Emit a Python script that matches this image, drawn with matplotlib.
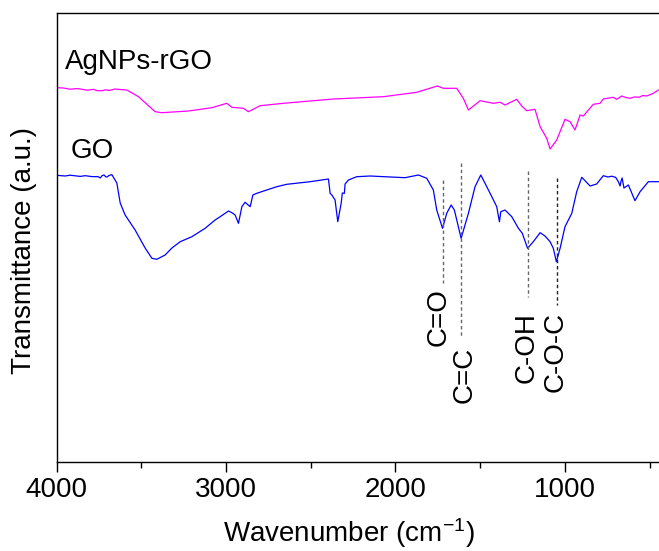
import matplotlib
matplotlib.use("Agg")
import matplotlib.pyplot as plt
from matplotlib.ticker import MultipleLocator

plt.rcParams['font.family'] = ['Liberation Sans', 'DejaVu Sans']
plt.rcParams['mathtext.default'] = 'regular'

# GO spectrum (wavenumber cm-1, transmittance a.u.)
go_wn = [4000, 3949, 3920, 3890, 3860, 3831, 3790, 3754, 3742, 3730, 3719, 3710, 3701, 3690,
         3673, 3644, 3624, 3595, 3536, 3477, 3437, 3408, 3359, 3319, 3270, 3201, 3123,
         3064, 3034, 2985, 2965, 2946, 2926, 2906, 2887, 2857, 2841, 2818, 2700, 2641,
         2503, 2395, 2385, 2375, 2356, 2340, 2320, 2313, 2301, 2297, 2277, 2228, 2149,
         1943, 1864, 1815, 1776, 1756, 1722, 1697, 1671, 1652, 1612, 1569, 1530, 1496,
         1471, 1431, 1402, 1386, 1378, 1353, 1313, 1274, 1251, 1220, 1186, 1146, 1117,
         1087, 1068, 1050, 1028, 999, 959, 930, 900, 851, 812, 773, 745, 723, 700, 684,
         674, 668, 662, 651, 625, 586, 556, 507, 448]
go_t = [286.7, 286.0, 286.8, 286.2, 285.6, 286.3, 285.4, 285.3, 284.0, 286.5, 287.0, 285.2,
        285.0, 286.6, 287.3, 279.0, 259.0, 247.0, 232.0, 214.0, 203.7, 202.7, 207.0,
        214.0, 220.3, 225.3, 233.7, 242.0, 245.3, 251.0, 249.3, 247.0, 238.7, 255.3,
        259.7, 255.3, 267.0, 268.7, 275.3, 277.7, 280.3, 283.0, 268.7, 267.0, 262.0,
        240.3, 258.7, 269.0, 268.7, 278.0, 282.0, 285.3, 286.0, 284.3, 287.0, 283.7,
        272.0, 252.0, 233.7, 248.7, 257.0, 252.0, 223.7, 248.7, 275.3, 287.0, 278.7,
        265.3, 255.3, 240.3, 250.3, 252.0, 245.3, 233.7, 228.7, 213.7, 220.3, 229.3,
        226.0, 220.3, 213.7, 200.3, 213.7, 235.3, 248.7, 270.3, 284.7, 276.0, 278.0,
        286.3, 285.0, 285.8, 284.6, 280.3, 276.0, 281.0, 284.0, 274.0, 277.0, 261.3,
        270.3, 280.3, 280.3]

# AgNPs-rGO spectrum
ag_wn = [4000, 3960, 3920, 3880, 3860, 3820, 3780, 3760, 3732, 3710, 3690, 3654, 3620, 3585,
         3516, 3418, 3378, 3221, 3083, 2995, 2965, 2897, 2867, 2828, 2798, 2661, 2366,
         2071, 1874, 1752, 1717, 1638, 1599, 1569, 1500, 1422, 1382, 1353, 1284, 1254,
         1225, 1176, 1146, 1107, 1087, 1048, 999, 969, 940, 910, 891, 832, 792, 773, 714,
         694, 664, 640, 615, 590, 560, 540, 517, 480, 448]
ag_t = [374.3, 374.0, 372.8, 373.4, 373.0, 371.8, 372.6, 371.3, 371.3, 372.2, 371.5, 373.0,
        372.4, 372.0, 365.3, 350.3, 349.3, 351.0, 354.3, 358.7, 354.7, 353.7, 350.3,
        353.7, 356.3, 358.7, 363.0, 365.3, 369.7, 376.0, 373.7, 373.7, 363.7, 352.0,
        361.3, 358.7, 359.7, 357.0, 362.7, 356.0, 351.3, 352.7, 335.3, 323.7, 313.0,
        322.0, 342.7, 340.3, 332.0, 347.0, 346.0, 357.7, 358.7, 363.0, 364.7, 362.7,
        366.0, 364.5, 363.7, 365.0, 364.8, 366.5, 366.0, 368.5, 372.0]

# Peak assignments: position, line top/bottom, label position
peak_wn = [1720, 1610, 1215, 1048]
peak_top = [282, 299, 291, 284]
peak_bottom = [179, 125, 165, 157]
peak_labels = ['C=O', 'C=C', 'C-OH', 'C-O-C']
label_wn = [1746, 1589, 1225, 1052]
label_t = [145, 87, 114, 110]
peak_colors = ['#666666', '#666666', '#666666', '#222222']

fig = plt.figure(figsize=(6.59, 5.51), dpi=100)
ax = fig.add_axes([56.5 / 659, 89 / 551, 610 / 659, 449 / 551])

ax.plot(ag_wn, ag_t, color='#FF00FF', lw=0.9)
ax.plot(go_wn, go_t, color='#0000FF', lw=0.9)

for wn, t0, t1, c in zip(peak_wn, peak_top, peak_bottom, peak_colors):
    ax.plot([wn, wn], [t0, t1], color=c, lw=1.0, linestyle=(0, (2.5, 2)))

for wn, t, lab in zip(label_wn, label_t, peak_labels):
    ax.text(wn, t, lab, rotation=90, ha='center', va='center', fontsize=20)

ax.text(3949, 400, 'AgNPs-rGO', ha='left', va='center', fontsize=20)
ax.text(3919, 311, 'GO', ha='left', va='center', fontsize=20)

ax.set_xlim(4000, 400)
ax.set_ylim(0, 449)
ax.xaxis.set_major_locator(MultipleLocator(1000))
ax.xaxis.set_minor_locator(MultipleLocator(500))
ax.set_yticks([])
ax.tick_params(axis='x', which='major', direction='out', length=7, width=1.0,
               labelsize=20, pad=4, top=False)
ax.tick_params(axis='x', which='minor', direction='out', length=4, width=1.0, top=False)
for s in ax.spines.values():
    s.set_linewidth(1.0)

ax.set_xlabel('Wavenumber (cm$^{-1}$)', fontsize=20)
ax.xaxis.set_label_coords(0.48, -0.158)
ax.xaxis.label.set_va('center')
ax.set_ylabel('Transmittance (a.u.)', fontsize=20)
ax.yaxis.set_label_coords(-0.0525, 0.47)
ax.yaxis.label.set_va('center')

fig.savefig('out.png', dpi=100)
